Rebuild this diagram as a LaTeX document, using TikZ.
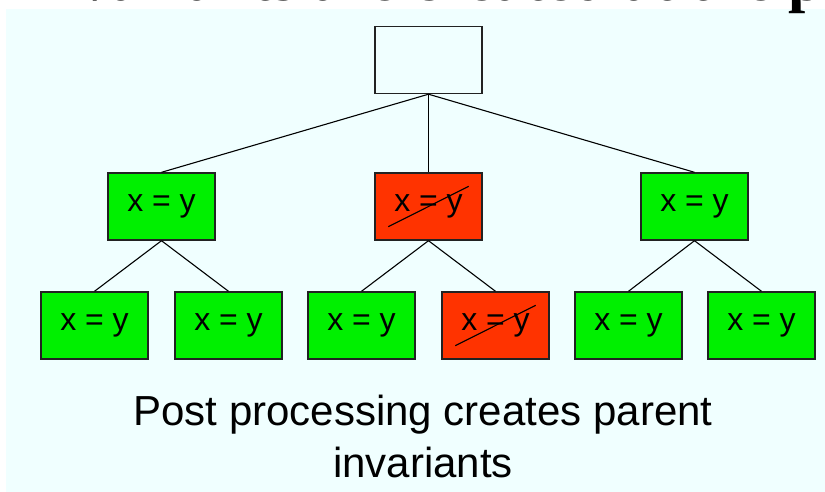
\documentclass[tikz,border=0pt]{standalone}
\usepackage{fontspec}
\setmainfont{Liberation Sans}
\newfontfamily\titlefont{Liberation Serif}
\definecolor{bgcyan}{HTML}{F0FFFF}
\definecolor{boxgreen}{HTML}{00F000}
\definecolor{boxred}{HTML}{FF3300}
\definecolor{edge}{HTML}{222222}
\begin{document}
\begin{tikzpicture}[x=1pt,y=-1pt,
  box/.style={draw=edge, line width=1.4pt, minimum width=107pt, minimum height=67pt, inner sep=0pt, font=\fontsize{32}{38}\selectfont},
  good/.style={box, fill=boxgreen},
  bad/.style={box, fill=boxred},
  link/.style={black, line width=1.1pt},
  strike/.style={black, line width=1.1pt},
  caption/.style={font=\fontsize{42}{50}\selectfont, anchor=base, inner sep=0pt}]
\clip (0,0) rectangle (825,492);
\useasboundingbox (0,0) rectangle (825,492);
\fill[bgcyan] (6,9) rectangle (825,492);
\node[anchor=base west, inner sep=0pt, font=\titlefont\bfseries\fontsize{62}{70}\selectfont] (title) at (21,1) {Invariants are created at the p};
% top
\node[box, fill=bgcyan] (root) at (428.5,60) {};
% middle
\node[good] (m1) at (161.5,206.5) {x = y};
\node[bad]  (m2) at (428.5,206.5) {x = y};
\node[good] (m3) at (694.5,206.5) {x = y};
% bottom
\node[good] (b1) at (94.5,325.5) {x = y};
\node[good] (b2) at (228.5,325.5) {x = y};
\node[good] (b3) at (361.5,325.5) {x = y};
\node[bad]  (b4) at (495.5,325.5) {x = y};
\node[good] (b5) at (628.5,325.5) {x = y};
\node[good] (b6) at (761.5,325.5) {x = y};
% connectors
\draw[link] (root.south) -- (m1.north);
\draw[link] (root.south) -- (m2.north);
\draw[link] (root.south) -- (m3.north);
\draw[link] (m1.south) -- (b1.north);
\draw[link] (m1.south) -- (b2.north);
\draw[link] (m2.south) -- (b3.north);
\draw[link] (m2.south) -- (b4.north);
\draw[link] (m3.south) -- (b5.north);
\draw[link] (m3.south) -- (b6.north);
% strikes
\draw[strike] ([shift={(14,-14)}]m2.south west) -- ([shift={(-14,14)}]m2.north east);
\draw[strike] ([shift={(14,-14)}]b4.south west) -- ([shift={(-14,14)}]b4.north east);
% caption
\node[caption] (cap1) at (423,425) {Post processing creates parent};
\node[caption] (cap2) at (423,477) {invariants};
\end{tikzpicture}
\end{document}
